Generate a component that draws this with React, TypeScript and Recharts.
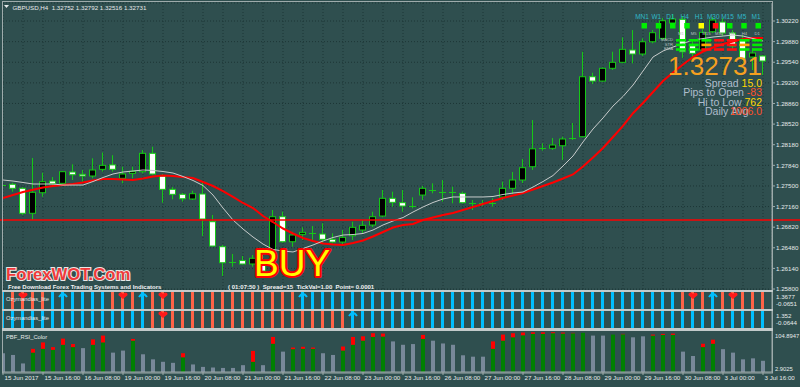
import React from "react";
import {
  ComposedChart,
  Bar,
  Line,
  Scatter,
  XAxis,
  YAxis,
  CartesianGrid,
  ReferenceLine,
  Cell,
} from "recharts";

const BG = "#2f4f4f";
const FRAME = "#9eabab";
const SEPARATOR = "#c2caca";
const GRID = "#1d3636";
const TEXT = "#e6eaea";
const WICK = "#16c816";
const FONT = "'Liberation Sans', Arial, sans-serif";

// one H4 candle per unit on the x axis
const X_DOMAIN: [number, number] = [0, 76.9];
const PRICE_DOMAIN: [number, number] = [1.25784, 1.30517];

const timeLabels = [
  "15 Jun 2017", "15 Jun 16:00", "16 Jun 08:00", "19 Jun 00:00", "19 Jun 16:00",
  "20 Jun 08:00", "21 Jun 00:00", "21 Jun 16:00", "22 Jun 08:00", "23 Jun 00:00",
  "23 Jun 16:00", "26 Jun 08:00", "27 Jun 00:00", "27 Jun 16:00", "28 Jun 08:00",
  "29 Jun 00:00", "29 Jun 16:00", "30 Jun 08:00", "3 Jul 00:00", "3 Jul 16:00",
];

const priceTicks = [
  1.3022, 1.2988, 1.2954, 1.292, 1.2886, 1.2852, 1.2818, 1.2784, 1.275, 1.2716,
  1.2682, 1.2648, 1.2614, 1.258,
];

const opens = [
  1.27507, 1.27527, 1.27461, 1.27049, 1.27388, 1.27581, 1.27543, 1.2773, 1.27692, 1.27664,
  1.27774, 1.27847, 1.27626, 1.27708, 1.27735, 1.28038, 1.27664, 1.27444, 1.27362, 1.27285,
  1.27367, 1.2691, 1.26498, 1.26242, 1.2627, 1.26213, 1.26196, 1.26444, 1.26993, 1.2658,
  1.26702, 1.26725, 1.26707, 1.2662, 1.26575, 1.26679, 1.26773, 1.26856, 1.27004, 1.27296,
  1.27224, 1.27171, 1.2735, 1.27444, 1.27408, 1.274, 1.27378, 1.2723, 1.2721, 1.2722,
  1.27318, 1.27461, 1.27598, 1.27817, 1.28127, 1.28121, 1.28163, 1.2829, 1.28312, 1.29301,
  1.2923, 1.2944, 1.29539, 1.29742, 1.29676, 1.29878, 1.29934, 1.30187, 1.30248, 1.29812,
  1.29742, 1.30043, 1.30203, 1.30022, 1.29906, 1.29626, 1.29643,
];
const highs = [
  1.27565, 1.27553, 1.27481, 1.27961, 1.27718, 1.27647, 1.27746, 1.27857, 1.27763, 1.27956,
  1.28051, 1.28007, 1.27817, 1.27817, 1.28093, 1.28147, 1.27697, 1.27481, 1.27388, 1.27421,
  1.2757, 1.27021, 1.26526, 1.26378, 1.26345, 1.26361, 1.26477, 1.27103, 1.27075, 1.26745,
  1.26818, 1.26839, 1.26884, 1.26719, 1.26773, 1.2691, 1.26938, 1.27075, 1.27433, 1.27405,
  1.27433, 1.27313, 1.27499, 1.27543, 1.27598, 1.27487, 1.27408, 1.27268, 1.27268, 1.27296,
  1.2757, 1.2773, 1.27944, 1.28587, 1.28203, 1.2829, 1.28312, 1.28538, 1.29713, 1.29367,
  1.29456, 1.29713, 1.29951, 1.30071, 1.29934, 1.30071, 1.30269, 1.30335, 1.30302, 1.29906,
  1.30083, 1.30286, 1.30269, 1.30071, 1.29989, 1.29775, 1.29659,
];
const lows = [
  1.27466, 1.27405, 1.27021, 1.26938, 1.27322, 1.27515, 1.27532, 1.27598, 1.2757, 1.27626,
  1.27735, 1.27735, 1.27543, 1.27626, 1.27708, 1.2768, 1.27224, 1.2728, 1.2724, 1.27268,
  1.26674, 1.26498, 1.26015, 1.26168, 1.26201, 1.26168, 1.26081, 1.26389, 1.26564, 1.26498,
  1.26608, 1.26608, 1.26554, 1.26554, 1.26526, 1.26608, 1.26719, 1.26818, 1.26983, 1.27158,
  1.27075, 1.27131, 1.27268, 1.27378, 1.2724, 1.27214, 1.2721, 1.27103, 1.27169, 1.27158,
  1.27268, 1.27367, 1.27548, 1.27763, 1.28081, 1.28093, 1.27928, 1.28258, 1.28302, 1.29181,
  1.29219, 1.29412, 1.29522, 1.29522, 1.29643, 1.29852, 1.29906, 1.30154, 1.2961, 1.2961,
  1.29709, 1.30022, 1.29972, 1.29758, 1.29577, 1.29412, 1.29329,
];
const closes = [
  1.27524, 1.27461, 1.27049, 1.27395, 1.2757, 1.27537, 1.27735, 1.27685, 1.27664, 1.27763,
  1.2784, 1.27774, 1.27697, 1.27741, 1.28038, 1.27697, 1.27444, 1.27362, 1.27289, 1.27372,
  1.26955, 1.26509, 1.26234, 1.26254, 1.26213, 1.26307, 1.26097, 1.26993, 1.2658, 1.26691,
  1.26735, 1.26732, 1.2662, 1.26575, 1.26653, 1.26818, 1.26851, 1.26993, 1.27296, 1.2723,
  1.27169, 1.27177, 1.27461, 1.27421, 1.27402, 1.2739, 1.27224, 1.27214, 1.27217, 1.27227,
  1.27461, 1.27598, 1.27801, 1.28112, 1.28134, 1.28175, 1.28274, 1.28299, 1.29301, 1.2923,
  1.2944, 1.29539, 1.29753, 1.29676, 1.29878, 1.30027, 1.30225, 1.30253, 1.29713, 1.29687,
  1.30033, 1.30236, 1.30022, 1.29807, 1.29605, 1.29692, 1.2956,
];
// white moving average
const maFast = [
  1.27598, 1.27581, 1.27557, 1.27532, 1.27532, 1.27532, 1.27515, 1.27515, 1.27515, 1.27573,
  1.27639, 1.27697, 1.2773, 1.27746, 1.27763, 1.27755, 1.27738, 1.27713, 1.27656, 1.2759,
  1.27507, 1.2735, 1.27136, 1.26938, 1.2679, 1.26658, 1.26542, 1.26452, 1.26427, 1.26411,
  1.26468, 1.26526, 1.26592, 1.2665, 1.26691, 1.26699, 1.26716, 1.26773, 1.26856, 1.26922,
  1.26979, 1.2707, 1.27153, 1.27227, 1.27285, 1.27318, 1.27318, 1.27318, 1.27318, 1.27326,
  1.27359, 1.27383, 1.274, 1.27482, 1.27573, 1.27672, 1.27829, 1.27994, 1.28225, 1.28439,
  1.28621, 1.28818, 1.28975, 1.29164, 1.29395, 1.29626, 1.29725, 1.29791, 1.29849, 1.29906,
  1.29931, 1.29956, 1.29972, 1.29989, 1.29972, 1.29931, 1.2989,
];
// red moving average
const maSlow = [
  1.27301, 1.2735, 1.274, 1.27438, 1.27474, 1.27499, 1.27515, 1.27532, 1.27557, 1.2759,
  1.27614, 1.27614, 1.27606, 1.27598, 1.27623, 1.27656, 1.27672, 1.27664, 1.27647, 1.27631,
  1.27565, 1.27499, 1.27416, 1.27318, 1.27219, 1.27136, 1.27004, 1.26905, 1.26798, 1.26716,
  1.26641, 1.26592, 1.26551, 1.26534, 1.26526, 1.26559, 1.266, 1.26666, 1.2674, 1.26814,
  1.26856, 1.26872, 1.26938, 1.26979, 1.27021, 1.27054, 1.27103, 1.27153, 1.27202, 1.27252,
  1.27301, 1.27342, 1.27383, 1.27441, 1.27499, 1.27557, 1.27623, 1.27689, 1.2782, 1.27969,
  1.28126, 1.28307, 1.28489, 1.287, 1.28868, 1.29049, 1.2923, 1.29371, 1.29502, 1.29626,
  1.29717, 1.29783, 1.2984, 1.29882, 1.29923, 1.2994, 1.2994,
];

const ORDER_PRICE = 1.26938;
const SIGNAL_BAR = 36.2;

// Ozymandias trend per bar: 1 = up (blue), -1 = down (red)
const ozyFast = [
  1, -1, -1, -1, -1, 1, 1, 1, 1, 1, 1, -1, -1, -1, 1, -1, -1, -1, -1, -1,
  -1, -1, -1, -1, -1, -1, -1, -1, -1, -1, 1, 1, 1, 1, 1, 1, 1, 1, 1, 1,
  1, 1, 1, 1, 1, 1, 1, 1, 1, 1, 1, 1, 1, 1, 1, 1, 1, 1, 1, 1,
  1, 1, 1, 1, 1, 1, 1, 1, -1, -1, -1, 1, -1, -1, -1, -1, -1,
];
const ozySlow = [
  1, 1, 1, 1, 1, 1, 1, 1, 1, 1, 1, 1, 1, 1, 1, -1, -1, -1, -1, -1,
  -1, -1, -1, -1, -1, -1, -1, -1, -1, -1, -1, -1, -1, -1, -1, 1, 1, 1, 1, 1,
  1, 1, 1, 1, 1, 1, 1, 1, 1, 1, 1, 1, 1, 1, 1, 1, 1, 1, 1, 1,
  1, 1, 1, 1, 1, 1, 1, 1, 1, 1, 1, 1, 1, 1, 1, 1, 1,
];
const ozyFastUps = [6, 14, 30, 71];
const ozyFastDowns = [2, 12, 16, 69, 73];
const ozySlowUps = [35];
const ozySlowDowns = [16];

// PBF_RSI_Color: bar value, and top of the green part (null = grey bar)
const rsiValue = [
  49.6, 45.3, 24.2, 60.5, 76.5, 64.8, 85.9, 72.4, 62.3, 84.1,
  93.5, 51.1, 56.2, 85.1, 47.0, 34.4, 28.3, 25.7, 49.6, 21.7,
  15.6, 14.1, 13.0, 13.0, 19.9, 55.4, 19.9, 90.2, 53.6, 63.8,
  65.6, 63.8, 49.6, 45.3, 66.3, 90.2, 91.7, 99.3, 98.5, 79.0,
  70.6, 72.4, 95.2, 80.8, 73.9, 70.6, 44.5, 41.0, 41.0, 79.0,
  96.0, 99.3, 101.1, 101.8, 101.8, 101.8, 101.1, 100.3, 100.3, 93.5,
  93.5, 96.0, 97.8, 89.2, 91.7, 96.0, 97.8, 98.5, 53.6, 42.7,
  73.2, 83.3, 59.7, 51.1, 34.4, 36.9, 30.8,
];
const rsiBody: (number | null)[] = [
  null, null, null, 51.1, 60.5, 58.0, 70.6, 64.8, null, 70.6,
  76.5, null, null, 80.8, null, null, null, null, 39.4, null,
  null, null, null, null, null, 28.3, null, 73.2, null, 59.7,
  60.5, 60.5, null, null, 56.2, 70.6, 80.8, 90.2, 91.0, null,
  null, null, 85.1, null, null, null, null, null, null, 60.5,
  80.8, 89.2, 94.2, 97.8, 97.8, 99.3, 98.5, 99.3, 100.3, null,
  null, 96.0, 96.8, null, null, 93.5, 95.2, 95.2, null, null,
  64.8, 73.2, null, null, null, null, null,
];
const RSI_MIN = 2.9025;
const RSI_MAX = 104.8947;

// multi-timeframe signal widget
const mtfFrames = ["MN1", "W1", "D1", "H4", "H1", "M30", "M15", "M5", "M1"];
const mtfSignal = ["up", "up", "up", "up", "flat", "down", "up", "up", "up"];
const mtfCols = ["M1", "M5", "M15", "M30", "H1", "H4", "D1"];
const mtfRows = ["MACD", "STR", "EMA"];
const mtfMacd = ["up", "up", "up", "down", "down", "up", "up"];
const mtfStr = ["up", "up", "weak", "down", "down", "weak", "up"];
const mtfEma = ["up", "up", "down", "down", "down", "up", "up"];

const SIGNAL_COLORS: Record<string, string> = {
  up: "#00ee00",
  flat: "#ffff00",
  weak: "#ffa500",
  down: "#ff1010",
};

const candles = opens.map((o, i) => ({
  i,
  o,
  h: highs[i],
  l: lows[i],
  c: closes[i],
  range: [lows[i], highs[i]],
  fast: maFast[i],
  slow: maSlow[i],
}));

const rsiData = rsiValue.map((v, i) => {
  const body = rsiBody[i];
  return {
    i,
    grey: body == null ? v : 0,
    green: body == null ? 0 : body,
    red: body == null ? 0 : v - body,
  };
});

const gridTicks = opens.map((_, i) => i).filter((i) => i % 2 === 0);
const labelTicks = timeLabels.map((_, j) => j * 4);

function Candle(props: any) {
  const { x, y, width, height, payload } = props;
  if (x == null || !payload) return null;
  const top = Math.min(y, y + height);
  const span = Math.abs(height);
  const { o, h, l, c } = payload;
  const toY = (v: number) => top + ((h - v) / (h - l || 1e-9)) * span;
  const left = Math.round(x);
  const cx = left + width / 2;
  const yT = toY(Math.max(o, c));
  const yB = toY(Math.min(o, c));
  return (
    <g>
      <line x1={cx} x2={cx} y1={top} y2={top + span} stroke={WICK} strokeWidth={1} />
      {yB - yT < 1.5 ? (
        <line x1={left} x2={left + width} y1={Math.round((yT + yB) / 2) + 0.5} y2={Math.round((yT + yB) / 2) + 0.5} stroke={WICK} />
      ) : (
        <rect x={left + 0.5} y={yT} width={width - 1} height={yB - yT} fill={c > o ? "#000000" : "#ffffff"} stroke={WICK} strokeWidth={1} />
      )}
    </g>
  );
}

function UpArrow(props: any) {
  const { cx, cy } = props;
  return (
    <g stroke="#00bfff" strokeWidth={2} fill="none">
      <path d={`M${cx - 4} ${cy + 5} Q${cx} ${cy - 1} ${cx + 4} ${cy + 5}`} />
      <path d={`M${cx} ${cy + 1} L${cx} ${cy + 9}`} />
    </g>
  );
}

function DownHeart(props: any) {
  const { cx, cy } = props;
  const t = cy + 0.5;
  return (
    <path
      d={`M${cx} ${t + 6.5} L${cx - 4.5} ${t + 2.8} Q${cx - 4.8} ${t} ${cx - 2.3} ${t} Q${cx - 0.4} ${t} ${cx} ${t + 1.8} Q${cx + 0.4} ${t} ${cx + 2.3} ${t} Q${cx + 4.8} ${t} ${cx + 4.5} ${t + 2.8} Z`}
      fill="#ff1a1a"
    />
  );
}

function EdgeTick(props: any) {
  const { x, y, payload, hi, dTop, dBottom, size = 6.2 } = props;
  const atTop = payload.value === hi;
  return (
    <text x={x} y={y + (atTop ? dTop : dBottom)} dy="0.35em" fontSize={size} fill={TEXT} fontFamily={FONT} textAnchor="start">
      {String(payload.value)}
    </text>
  );
}

function TimeTick(props: any) {
  const { x, y, payload } = props;
  return (
    <text x={x + 1.5} y={y} dy="0.78em" fontSize={6.2} fill={TEXT} fontFamily={FONT} textAnchor="start">
      {timeLabels[Math.round(payload.value / 4)]}
    </text>
  );
}

function OzyPanel(props: {
  top: number;
  trend: number[];
  ups: number[];
  downs: number[];
  hi: number;
  lo: number;
}) {
  const { top, trend, ups, downs, hi, lo } = props;
  const data = trend.map((t, i) => ({ i, band: [lo, hi], t }));
  return (
    <div style={{ position: "absolute", left: 0, top }}>
      <ComposedChart width={800} height={17} data={data} margin={{ top: 0, right: 0, bottom: 0, left: 3 }}>
        <XAxis type="number" dataKey="i" domain={X_DOMAIN} allowDataOverflow hide />
        <YAxis
          orientation="right"
          width={28}
          domain={[lo, hi]}
          ticks={[hi, lo]}
          interval={0}
          allowDataOverflow
          tick={(p: any) => <EdgeTick {...p} hi={hi} dTop={5} dBottom={-5} />}
          tickSize={3}
          tickMargin={1}
          axisLine={{ stroke: FRAME }}
          tickLine={false}
        />
        <Bar dataKey="band" barSize={3} isAnimationActive={false}>
          {data.map((d) => (
            <Cell key={d.i} fill={d.t > 0 ? "#00bfff" : "#ff6347"} />
          ))}
        </Bar>
        <Scatter data={ups.map((i) => ({ i, y: hi }))} dataKey="y" shape={UpArrow} isAnimationActive={false} />
        <Scatter data={downs.map((i) => ({ i, y: hi }))} dataKey="y" shape={DownHeart} isAnimationActive={false} />
      </ComposedChart>
    </div>
  );
}

const small = { fontFamily: FONT, fontSize: 6.2, fill: TEXT };

export default function App() {
  const mtfX0 = 644;
  const mtfDx = 14.25;
  const colX0 = 681;
  const colDx = 12.7;
  const rowSignals = [mtfMacd, mtfStr, mtfEma];
  return (
    <div style={{ position: "absolute", left: 0, top: 0, width: 800, height: 387, background: BG, overflow: "hidden" }}>
      {/* main price window */}
      <div style={{ position: "absolute", left: 0, top: 0 }}>
        <ComposedChart width={800} height={295} data={candles} margin={{ top: 3, right: 0, bottom: 5, left: 3 }}>
          <CartesianGrid stroke={GRID} strokeDasharray="1 2" />
          <XAxis type="number" dataKey="i" domain={X_DOMAIN} ticks={gridTicks} interval={0} allowDataOverflow hide />
          <YAxis
            orientation="right"
            width={28}
            domain={PRICE_DOMAIN}
            ticks={priceTicks}
            interval={0}
            allowDataOverflow
            tickFormatter={(v: number) => v.toFixed(5)}
            tick={{ fontSize: 6.2, fill: TEXT, fontFamily: FONT }}
            tickSize={3}
            tickMargin={1}
            axisLine={{ stroke: FRAME }}
            tickLine={{ stroke: FRAME }}
          />
          <Bar dataKey="range" barSize={7} shape={(p: any) => <Candle {...p} />} isAnimationActive={false} />
          <Line type="linear" dataKey="slow" stroke="#ff0000" strokeWidth={2} dot={false} activeDot={false} isAnimationActive={false} />
          <Line type="linear" dataKey="fast" stroke="#c8cccc" strokeWidth={1} dot={false} activeDot={false} isAnimationActive={false} />
          <ReferenceLine
            segment={[{ x: -1, y: ORDER_PRICE }, { x: 80, y: ORDER_PRICE }]}
            stroke="#ff0000"
            strokeWidth={1.5}
            ifOverflow="visible"
          />
        </ComposedChart>
      </div>

      <OzyPanel top={292} trend={ozyFast} ups={ozyFastUps} downs={ozyFastDowns} hi={1.3677} lo={-0.0651} />
      <OzyPanel top={311} trend={ozySlow} ups={ozySlowUps} downs={ozySlowDowns} hi={1.352} lo={-0.0644} />

      {/* RSI window with the time axis */}
      <div style={{ position: "absolute", left: 0, top: 331 }}>
        <ComposedChart width={800} height={56} data={rsiData} margin={{ top: 0, right: 0, bottom: 0, left: 3 }}>
          <XAxis
            type="number"
            dataKey="i"
            domain={X_DOMAIN}
            allowDataOverflow
            ticks={labelTicks}
            interval={0}
            height={15}
            tick={(p: any) => <TimeTick {...p} />}
            tickSize={3}
            tickMargin={0}
            axisLine={{ stroke: FRAME }}
            tickLine={{ stroke: FRAME }}
          />
          <YAxis
            orientation="right"
            width={28}
            domain={[RSI_MIN, RSI_MAX]}
            ticks={[RSI_MAX, RSI_MIN]}
            interval={0}
            allowDataOverflow
            tick={(p: any) => <EdgeTick {...p} hi={RSI_MAX} dTop={4.5} dBottom={-3.5} size={5.8} />}
            tickSize={2}
            tickMargin={1}
            axisLine={{ stroke: FRAME }}
            tickLine={false}
          />
          <Bar dataKey="grey" stackId="r" fill="#778899" barSize={4} isAnimationActive={false} />
          <Bar dataKey="green" stackId="r" fill="#008000" barSize={4} isAnimationActive={false} />
          <Bar dataKey="red" stackId="r" fill="#ff0000" barSize={4} isAnimationActive={false} />
        </ComposedChart>
      </div>

      {/* window frames, labels and on-chart texts */}
      <svg width={800} height={387} style={{ position: "absolute", left: 0, top: 0, pointerEvents: "none" }}>
        <rect x={2.5} y={1.5} width={770} height={371.5} fill="none" stroke={FRAME} />
        <rect x={2} y={290} width={771} height={2} fill={SEPARATOR} />
        <rect x={2} y={309} width={771} height={2} fill={SEPARATOR} />
        <rect x={2} y={328} width={771} height={3} fill={SEPARATOR} />

        <path d="M4 5 L9 5 L6.5 8 Z" fill={TEXT} />
        <text x={12.5} y={9.5} {...small} style={{ whiteSpace: "pre" }}>
          GBPUSD,H4  1.32752 1.32792 1.32516 1.32731
        </text>

        <text x={6} y={300.5} fontFamily={FONT} fontSize={5.8} fill={TEXT}>Ozymandias_lite</text>
        <text x={6} y={319.5} fontFamily={FONT} fontSize={5.8} fill={TEXT}>Ozymandias_lite</text>
        <text x={6} y={338.5} fontFamily={FONT} fontSize={5.8} fill={TEXT}>PBF_RSI_Color</text>

        <text x={6} y={280} fontFamily={FONT} fontSize={16.7} fontWeight="bold" fill="#f03a3a" stroke="#e8e8e8" strokeWidth={2} paintOrder="stroke">
          ForexWOT.Com
        </text>
        <text x={8} y={288.5} fontFamily={FONT} fontSize={6} fontWeight="bold" fill="#f2f2f2">
          Free Download Forex Trading Systems and Indicators
        </text>
        <text x={228} y={288.5} fontFamily={FONT} fontSize={6} fontWeight="bold" fill="#f2f2f2" style={{ whiteSpace: "pre" }}>
          ( 01:07:50 )  Spread=15  TickVal=1.00  Point= 0.0001
        </text>

        <text x={254} y={276} fontFamily={FONT} fontSize={37} fill="#ffff00" stroke="#ff0000" strokeWidth={4} paintOrder="stroke" strokeLinejoin="round">
          BUY
        </text>

        {/* multi-timeframe widget */}
        {mtfFrames.map((f, j) => (
          <text key={f} x={mtfX0 + j * mtfDx - 2} y={19} textAnchor="middle" fontFamily={FONT} fontSize={6.5} fill="#30b8c8">
            {f}
          </text>
        ))}
        {mtfSignal.map((s, j) => (
          <rect key={j} x={mtfX0 + j * mtfDx - 2.5} y={23} width={5.5} height={5.5} fill={SIGNAL_COLORS[s]} />
        ))}
        {mtfCols.map((c, j) => (
          <text key={c} x={colX0 + j * colDx} y={34.5} textAnchor="middle" fontFamily={FONT} fontSize={4.2} fill="#b8c0c0">
            {c}
          </text>
        ))}
        {mtfRows.map((r, k) => (
          <text key={r} x={673} y={41 + k * 4.6} textAnchor="end" fontFamily={FONT} fontSize={4.2} fill="#b8c0c0">
            {r}
          </text>
        ))}
        {rowSignals.map((row, k) =>
          row.map((s, j) => (
            <rect key={`${k}-${j}`} x={colX0 + j * colDx - 5} y={39 + k * 4.6} width={10} height={2.6} fill={SIGNAL_COLORS[s]} />
          ))
        )}

        <text x={762} y={75} textAnchor="end" fontFamily={FONT} fontSize={26} fill="#f5a020">1.32731</text>
        <text x={762} y={86.5} textAnchor="end" fontFamily={FONT} fontSize={10.5}>
          <tspan fill="#aebccc">Spread </tspan>
          <tspan fill="#ffd700">15.0</tspan>
        </text>
        <text x={762} y={96} textAnchor="end" fontFamily={FONT} fontSize={10.5}>
          <tspan fill="#aebccc">Pips to Open </tspan>
          <tspan fill="#ff5028">-83</tspan>
        </text>
        <text x={762} y={105.5} textAnchor="end" fontFamily={FONT} fontSize={10.5}>
          <tspan fill="#aebccc">Hi to Low </tspan>
          <tspan fill="#ffd700">762</tspan>
        </text>
        <text x={705} y={115} fontFamily={FONT} fontSize={10.5} fill="#aebccc">Daily Avg</text>
        <text x={762} y={115} textAnchor="end" fontFamily={FONT} fontSize={10.5} fill="#ff5028">1006.0</text>
      </svg>

      {/* signal bar marker through all windows */}
      <div style={{ position: "absolute", left: 0, top: 0, pointerEvents: "none" }}>
        <ComposedChart width={800} height={387} data={candles} margin={{ top: 0, right: 28, bottom: 0, left: 3 }}>
          <XAxis type="number" dataKey="i" domain={X_DOMAIN} allowDataOverflow hide />
          <YAxis domain={[0, 1]} hide />
          <ReferenceLine x={SIGNAL_BAR} stroke="#ff0000" strokeWidth={2} />
        </ComposedChart>
      </div>
    </div>
  );
}
